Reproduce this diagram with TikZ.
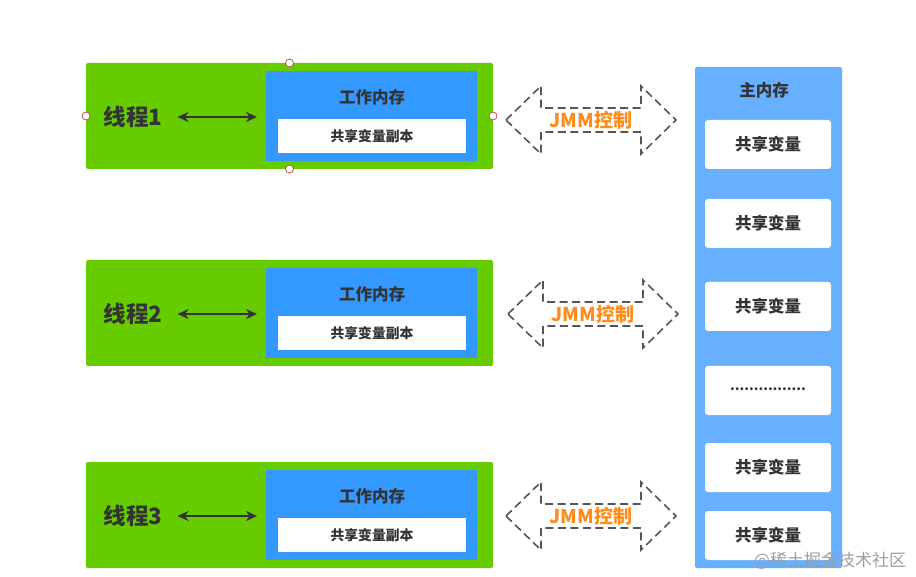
\documentclass[tikz,border=0pt]{standalone}
\usepackage{fontspec}
\setmainfont{Noto Sans CJK SC}
\usetikzlibrary{arrows.meta}
\definecolor{grn}{HTML}{66CC00}
\definecolor{wblue}{HTML}{3399FF}
\definecolor{mblue}{HTML}{66B0FF}
\definecolor{txt}{HTML}{333333}
\definecolor{jmmc}{HTML}{FF8C1A}
\definecolor{handlec}{HTML}{C0504D}
\definecolor{dashc}{HTML}{555555}
\tikzset{
  box/.style={inner sep=0pt, outer sep=0pt, anchor=north west},
  threadbox/.style={box, fill=grn, rounded corners=2pt, minimum width=407pt, minimum height=106pt},
  workbox/.style={box, fill=wblue, minimum width=211pt, minimum height=90pt},
  copybox/.style={box, fill=white, minimum width=188pt, minimum height=34pt, text=txt, font=\fontsize{13.8}{15}\selectfont\bfseries},
  mainbox/.style={box, fill=mblue, rounded corners=2pt, minimum width=147pt, minimum height=501pt},
  varbox/.style={box, fill=white, rounded corners=3pt, minimum width=126pt, minimum height=49pt, text=txt, font=\fontsize{16.5}{18}\selectfont\bfseries},
  threadlabel/.style={text=txt, font=\fontsize{22.5}{24}\selectfont\bfseries, inner sep=0pt},
  titlelabel/.style={text=txt, font=\fontsize{16.5}{18}\selectfont\bfseries, inner sep=0pt},
  linkarrow/.style={draw=txt, line width=2.2pt, {Stealth[length=11pt,width=10pt]}-{Stealth[length=11pt,width=10pt]}},
  jmmoutline/.style={draw=dashc, line width=1.6pt, dash pattern=on 8pt off 4.5pt, line join=miter},
  jmmlabel/.style={text=jmmc, font=\fontsize{19}{21}\selectfont\bfseries, inner sep=0pt},
  handle/.style={circle, draw=handlec, fill=white, line width=0.8pt, minimum size=8pt, inner sep=0pt},
  watermark/.style={text=black!38, font=\fontsize{17}{19}\selectfont, inner sep=0pt}
}
\begin{document}
\begin{tikzpicture}[x=1pt, y=-1pt]
\fill[white] (0,0) rectangle (916,577);
\useasboundingbox (0,0) rectangle (916,577);

% threads
\foreach \i/\t in {1/63, 2/260, 3/462} {
  \node[threadbox] (g\i) at (86,\t) {};
  \node[workbox] (w\i) at (266,\t+8) {};
  \node[titlelabel] (wt\i) at (372,\t+34) {工作内存};
  \node[copybox] (c\i) at (278,\t+56) {共享变量副本};
  \node[threadlabel] (l\i) at (133,\t+54) {线程\i};
  \draw[linkarrow, shorten <=15pt, shorten >=9pt] (l\i.east) -- (l\i.east -| w\i.west);
}

% selection handles
\foreach \a in {north, south, west, east} {
  \node[handle] at (g1.\a) {};
}

% JMM arrows
\foreach \k/\cx/\cy in {1/592/120, 2/594/314, 3/592/516} {
  \node[jmmlabel] (j\k) at (\cx-1,\cy) {J\kern0.5pt M\kern0.5pt M\kern0.5pt 控制};
  \draw[jmmoutline] ([xshift=-85pt]j\k.center) -- ++(35,-34) -- ++(0,22) -- ++(100,0) -- ++(0,-22)
    -- ++(35,34) -- ++(-35,34) -- ++(0,-22) -- ++(-100,0) -- ++(0,22) -- cycle;
}

% main memory
\node[mainbox] (m) at (695,67) {};
\node[titlelabel] (mt) at (764,90) {主内存};
\node[varbox] (v1) at (705,120) {共享变量};
\node[varbox] (v2) at (705,199) {共享变量};
\node[varbox] (v3) at (705,282) {共享变量};
\node[varbox, font=\fontsize{13.5}{15}\selectfont\bfseries] (v4) at (705,366) {\raisebox{2pt}{................}};
\node[varbox] (v5) at (705,443) {共享变量};
\node[varbox] (v6) at (705,511) {共享变量};

\node[watermark] (wm) at (830,561) {@稀土掘金技术社区};
\end{tikzpicture}
\end{document}
